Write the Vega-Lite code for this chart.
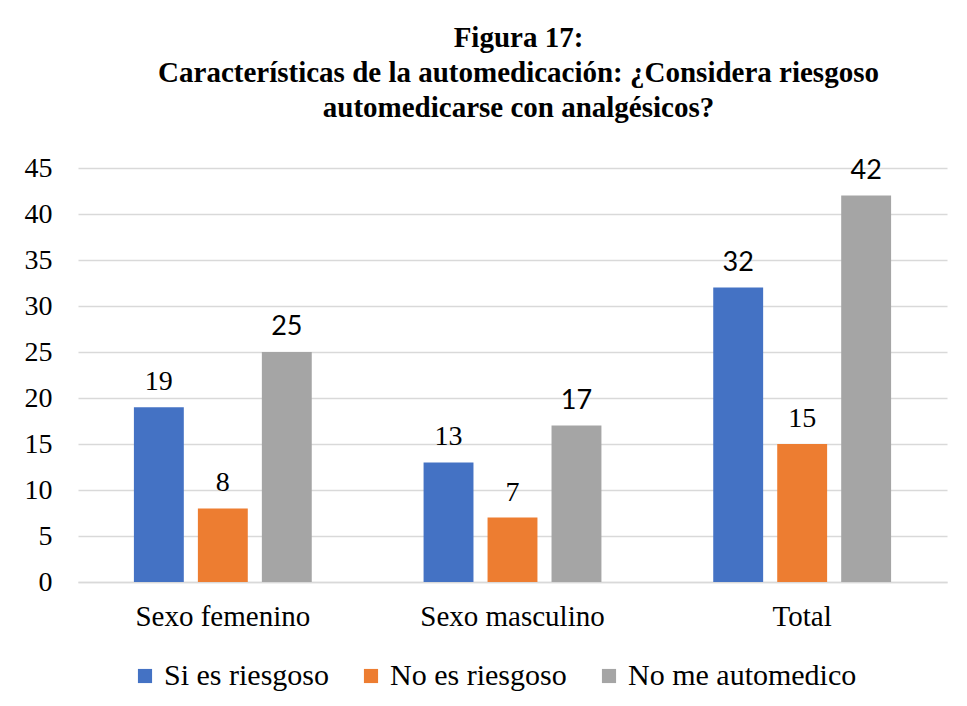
{
  "$schema": "https://vega.github.io/schema/vega-lite/v6.json",
  "width": 869,
  "height": 414,
  "padding": {"left": 24, "top": 24, "right": 10, "bottom": 10},
  "background": "white",
  "title": {
    "text": ["Figura 17:", "Características de la automedicación: ¿Considera riesgoso", "automedicarse con analgésicos?"],
    "font": "Liberation Serif",
    "fontSize": 29,
    "fontWeight": "bold",
    "lineHeight": 35,
    "color": "#000000",
    "anchor": "middle",
    "dx": 6,
    "offset": 31
  },
  "data": {
    "values": [
      {"categoria": "Sexo femenino", "serie": "Si es riesgoso", "value": 19},
      {"categoria": "Sexo femenino", "serie": "No es riesgoso", "value": 8},
      {"categoria": "Sexo femenino", "serie": "No me automedico", "value": 25},
      {"categoria": "Sexo masculino", "serie": "Si es riesgoso", "value": 13},
      {"categoria": "Sexo masculino", "serie": "No es riesgoso", "value": 7},
      {"categoria": "Sexo masculino", "serie": "No me automedico", "value": 17},
      {"categoria": "Total", "serie": "Si es riesgoso", "value": 32},
      {"categoria": "Total", "serie": "No es riesgoso", "value": 15},
      {"categoria": "Total", "serie": "No me automedico", "value": 42}
    ]
  },
  "encoding": {
    "x": {
      "field": "categoria", "type": "nominal", "sort": null,
      "scale": {"paddingInner": 0.386, "paddingOuter": 0.193},
      "axis": {
        "title": null, "labelAngle": 0, "ticks": false,
        "domainColor": "#D9D9D9", "domainWidth": 1.5,
        "labelFont": "Liberation Serif", "labelFontSize": 29, "labelColor": "#000000",
        "labelPadding": 20, "labelLimit": 400
      }
    },
    "xOffset": {
      "field": "serie", "type": "nominal", "sort": ["Si es riesgoso", "No es riesgoso", "No me automedico"],
      "scale": {"paddingInner": 0.22, "paddingOuter": 0}
    },
    "y": {
      "field": "value", "type": "quantitative",
      "scale": {"domain": [0, 45], "nice": false},
      "axis": {
        "title": null, "values": [0, 5, 10, 15, 20, 25, 30, 35, 40, 45],
        "domain": false, "ticks": false,
        "gridColor": "#D9D9D9", "gridWidth": 1.5,
        "labelFont": "Liberation Serif", "labelFontSize": 28, "labelColor": "#000000",
        "labelPadding": 26
      }
    }
  },
  "layer": [
    {
      "mark": {"type": "bar"},
      "encoding": {
        "color": {
          "field": "serie", "type": "nominal",
          "sort": ["Si es riesgoso", "No es riesgoso", "No me automedico"],
          "scale": {"domain": ["Si es riesgoso", "No es riesgoso", "No me automedico"], "range": ["#4472C4", "#ED7D31", "#A5A5A5"]},
          "legend": {
            "title": null, "orient": "none", "direction": "horizontal",
            "legendX": 52, "legendY": 493,
            "symbolType": "square", "symbolSize": 200, "symbolStrokeWidth": 0,
            "labelFont": "Liberation Serif", "labelFontSize": 30, "labelColor": "#000000",
            "columnPadding": 27, "labelOffset": 4, "labelLimit": 400
          }
        }
      }
    },
    {
      "transform": [{"filter": {"not": {"field": "value", "oneOf": [25, 17, 42, 32]}}}],
      "mark": {"type": "text", "baseline": "bottom", "dy": -11, "font": "Liberation Serif", "fontSize": 28, "color": "#000000"},
      "encoding": {"text": {"field": "value", "type": "quantitative"}}
    },
    {
      "transform": [{"filter": {"field": "value", "oneOf": [25, 17, 42, 32]}}],
      "mark": {"type": "text", "baseline": "bottom", "dy": -11, "font": "Lato", "fontSize": 27, "color": "#000000"},
      "encoding": {"text": {"field": "value", "type": "quantitative"}}
    }
  ],
  "config": {"view": {"stroke": null}}
}
